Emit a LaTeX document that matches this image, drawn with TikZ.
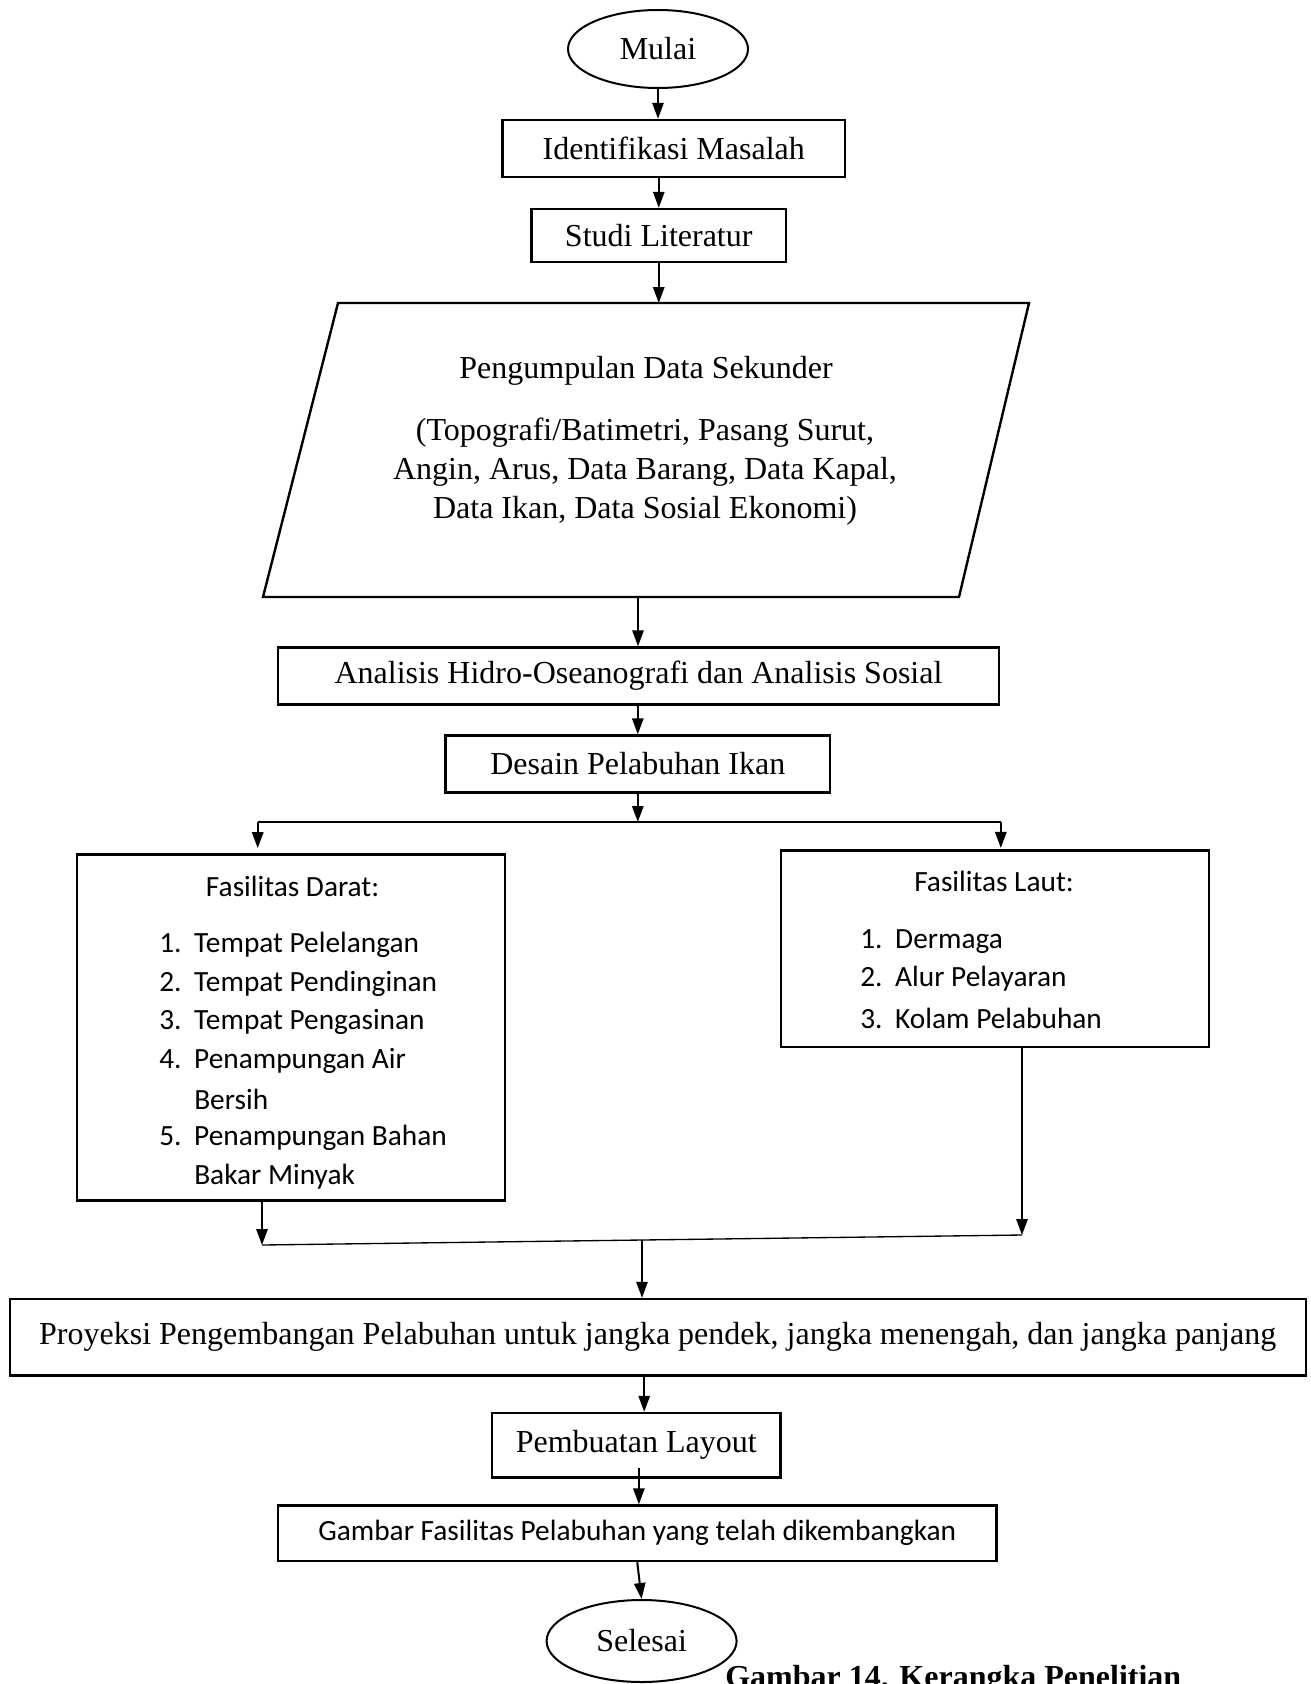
\documentclass[tikz,border=0pt]{standalone}
\usepackage{fontspec}
\setmainfont{Liberation Serif}
\newfontfamily\calfont{Carlito}
\usetikzlibrary{arrows.meta,shapes.geometric}
\begin{document}
\begin{tikzpicture}[x=0.75pt,y=-0.75pt,
  box/.style={draw, line width=1.8pt, inner sep=0, font=\fontsize{24}{29}\selectfont},
  term/.style={draw, ellipse, line width=1.5pt, inner sep=0, font=\fontsize{24}{29}\selectfont},
  arr/.style={line width=1.5pt, -{Triangle[length=12pt,width=8.5pt]}},
  thinline/.style={line width=1pt},
  serif/.style={inner sep=0, font=\fontsize{24}{29.25}\selectfont},
  lbl/.style={inner sep=0, anchor=west, font=\calfont\fontsize{22}{26}\selectfont},
  ttl/.style={inner sep=0, font=\calfont\fontsize{22}{26}\selectfont}]
\useasboundingbox (0,0) rectangle (1310,1684);
\clip (0,0) rectangle (1310,1684);
\newcommand\nb[1]{\makebox[26.25pt][l]{#1}}

% nodes
\node[term, minimum width=135pt, minimum height=58.5pt] (mulai) at (658,49) {Mulai};
\node[box, minimum width=256.9pt, minimum height=42.75pt] (ident) at (673.75,148.5) {Identifikasi Masalah};
\node[box, minimum width=190.9pt, minimum height=39.75pt] (studi) at (658.75,235.5) {Studi Literatur};

% parallelogram
\draw[line width=1.8pt] (338,303) -- (1029,303) -- (959,597) -- (263,597) -- cycle;
\coordinate (paraT) at (662,303);
\coordinate (paraB) at (638,597);
\node[serif] (paratitle) at (646,371) {Pengumpulan Data Sekunder};
\node[serif, align=center] (paratext) at (645,472) {(Topografi/Batimetri, Pasang Surut,\\Angin, Arus, Data Barang, Data Kapal,\\Data Ikan, Data Sosial Ekonomi)};

\node[box, minimum width=540.75pt, minimum height=42.75pt] (anal) at (638.5,676) {Analisis Hidro-Oseanografi dan Analisis Sosial};
\node[box, minimum width=288.3pt, minimum height=42.75pt] (desain) at (637.8,764) {Desain Pelabuhan Ikan};

\node[box, minimum width=320.8pt, minimum height=259.4pt] (darat) at (290.85,1027.6) {};
\node[box, minimum width=321.2pt, minimum height=147.4pt] (laut) at (994.85,948.75) {};

\node[ttl] (daratT) at (292.6,886) {Fasilitas Darat:};
\node[lbl] (d1) at (159,945) {\nb{1.}Tempat Pelelangan};
\node[lbl] (d2) at (159,983.6) {\nb{2.}Tempat Pendinginan};
\node[lbl] (d3) at (159,1022) {\nb{3.}Tempat Pengasinan};
\node[lbl] (d4) at (159,1061) {\nb{4.}Penampungan Air};
\node[lbl] (d4b) at (194,1099.6) {Bersih};
\node[lbl] (d5) at (159,1138) {\nb{5.}Penampungan Bahan};
\node[lbl] (d5b) at (194,1177) {Bakar Minyak};

\node[ttl] (lautT) at (994,881.6) {Fasilitas Laut:};
\node[lbl] (l1) at (860,941.7) {\nb{1.}Dermaga};
\node[lbl] (l2) at (860,979) {\nb{2.}Alur Pelayaran};
\node[lbl] (l3) at (860,1018) {\nb{3.}Kolam Pelabuhan};

\node[box, minimum width=972pt, minimum height=57.4pt] (proy) at (657.7,1337.25) {Proyeksi Pengembangan Pelabuhan untuk jangka pendek, jangka menengah, dan jangka panjang};
\node[box, minimum width=216.6pt, minimum height=48.4pt] (layout) at (636.2,1445.25) {Pembuatan Layout};
\node[box, minimum width=538.9pt, minimum height=41.6pt, font=\calfont\fontsize{22}{26}\selectfont] (gambar) at (637.25,1533.25) {Gambar Fasilitas Pelabuhan yang telah dikembangkan};
\node[term, minimum width=142.5pt, minimum height=61.5pt] (selesai) at (641.6,1641) {Selesai};

\node[inner sep=0, anchor=base west, font=\bfseries\fontsize{24}{29}\selectfont] (cap) at (725,1687) {Gambar 14. Kerangka Penelitian};

% junction coordinates
\coordinate (jT) at (637.8,822);
\coordinate (jTL) at (257.7,822);
\coordinate (jTR) at (1000.8,822);
\coordinate (jL) at (262,1245);
\coordinate (jR) at (1022,1235);
\coordinate (jM) at (642,1240);

% connectors
\draw[arr] (mulai.south) -- (mulai.south |- ident.north);
\draw[arr] (studi.north |- ident.south) -- (studi.north);
\draw[arr] (studi.south) -- (studi.south |- paraT);
\draw[arr] (paraB) -- (paraB |- anal.north);
\draw[arr] (desain.north |- anal.south) -- (desain.north);
\draw[arr] (desain.south) -- (jT);
\draw[thinline] (jTL) -- (jTR);
\draw[arr, shorten >=4pt] (jTL) -- (jTL |- darat.north);
\draw[arr, shorten >=1pt] (jTR) -- (jTR |- laut.north);
\draw[arr] (jL |- darat.south) -- (jL);
\draw[arr] (jR |- laut.south) -- (jR);
\draw[thinline] (jL) -- (jR);
\draw[arr] (jM) -- (jM |- proy.north);
\draw[arr] ([xshift=6pt]layout.north |- proy.south) -- ([xshift=6pt]layout.north);
\draw[arr] ([xshift=2pt,yshift=8pt]layout.south) -- ([xshift=2pt]layout.south |- gambar.north);
\draw[arr] (gambar.south) -- (selesai.north);
\end{tikzpicture}
\end{document}
